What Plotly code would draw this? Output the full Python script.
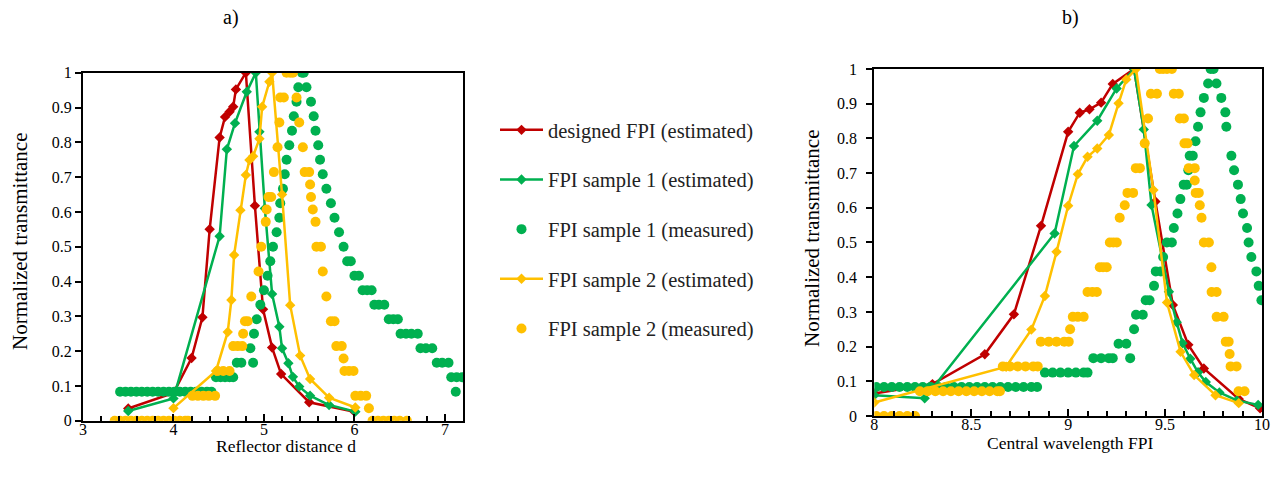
import plotly.graph_objects as go

RED = "#C00000"
GREEN = "#00B050"
YELLOW = "#FFC000"
FONT = "Liberation Serif"

# ---------------- panel a) : reflector distance ----------------
a_red_x = [3.5, 4.0, 4.2, 4.32, 4.4, 4.51, 4.57, 4.62, 4.66, 4.69, 4.8, 4.9, 4.99, 5.09, 5.19, 5.5, 6.0]
a_red_y = [0.035, 0.08, 0.18, 0.297, 0.55, 0.814, 0.873, 0.888, 0.902, 0.952, 1.0, 0.618, 0.32, 0.21, 0.134, 0.053, 0.026]

a_g_est_x = [3.5, 4.0, 4.51, 4.59, 4.68, 4.81, 4.91, 4.95, 5.01, 5.09, 5.17, 5.20, 5.27, 5.32, 5.39, 5.51, 5.72, 6.01]
a_g_est_y = [0.028, 0.064, 0.53, 0.78, 0.855, 0.945, 1.0, 0.83, 0.61, 0.364, 0.27, 0.208, 0.165, 0.126, 0.098, 0.072, 0.045, 0.026]

a_y_est_x = [4.0, 4.47, 4.60, 4.64, 4.67, 4.74, 4.80, 4.84, 4.88, 4.95, 4.98, 5.06, 5.09, 5.20, 5.29, 5.40, 5.51, 5.72, 6.01]
a_y_est_y = [0.036, 0.143, 0.255, 0.347, 0.476, 0.605, 0.706, 0.749, 0.76, 0.81, 0.902, 0.974, 1.0, 0.65, 0.332, 0.187, 0.12, 0.066, 0.038]

a_g_meas_x = [3.41, 3.47, 3.53, 3.59, 3.65, 3.71, 3.77, 3.83, 3.89, 3.95, 4.01, 4.07, 4.13, 4.19, 4.25, 4.31, 4.37, 4.42,
              4.47, 4.52, 4.57, 4.62, 4.66,
              4.70, 4.75, 4.88, 4.85,
              4.89, 4.92, 4.96, 5.00, 5.04, 5.07, 5.10, 5.14, 5.17, 5.18, 5.21, 5.23, 5.25, 5.28, 5.31, 5.33, 5.36, 5.38,
              5.42, 5.44,
              5.47, 5.52, 5.55, 5.57, 5.60, 5.62, 5.65, 5.69, 5.74, 5.78, 5.83, 5.88,
              5.92, 5.96, 6.00, 6.05, 6.09, 6.14, 6.19, 6.22, 6.27, 6.33, 6.38, 6.43, 6.48,
              6.51, 6.57, 6.63, 6.70, 6.73, 6.79, 6.86, 6.91, 6.97, 7.04, 7.07, 7.13, 7.19, 7.12]
a_g_meas_y = [0.0833] * 18 + \
             [0.125] * 5 + \
             [0.1667, 0.1667, 0.1667, 0.2083] + \
             [0.25, 0.2917, 0.3333, 0.375, 0.4167, 0.4583, 0.5, 0.5417, 0.5833, 0.625, 0.6667, 0.7083, 0.75, 0.7917, 0.8333, 0.875, 0.9167, 0.9583] + \
             [1.0, 1.0] + \
             [0.9583, 0.9167, 0.875, 0.8333, 0.7917, 0.75, 0.7083, 0.6667, 0.625, 0.5833, 0.5417, 0.5] + \
             [0.4583, 0.4583, 0.4167, 0.4167, 0.375, 0.375, 0.375, 0.3333, 0.3333, 0.3333, 0.2917, 0.2917, 0.2917] + \
             [0.25, 0.25, 0.25, 0.25, 0.2083, 0.2083, 0.2083, 0.1667, 0.1667, 0.1667, 0.125, 0.125, 0.125, 0.0833]

a_y_meas_x = [3.35, 3.41, 3.47, 3.53, 3.59, 3.65, 3.71, 3.77, 3.83, 3.89, 3.95, 4.01, 4.07, 4.13, 4.16,
              4.21, 4.27, 4.33, 4.39, 4.46,
              4.49, 4.55, 4.62,
              4.66, 4.71, 4.76, 4.77, 4.79, 4.82, 4.86, 4.94, 4.97, 5.02, 5.03, 5.05, 5.08, 5.11, 5.15, 5.17, 5.18, 5.22,
              5.25, 5.29, 5.32,
              5.36, 5.39, 5.43, 5.45, 5.50, 5.51, 5.52, 5.54, 5.57, 5.58, 5.63, 5.65, 5.69, 5.74, 5.78, 5.80, 5.86, 5.88,
              5.89, 5.94, 5.99, 6.01, 6.07, 6.13, 6.16,
              6.20, 6.26, 6.32, 6.38, 6.44, 6.50, 6.58]
a_y_meas_y = [0.0] * 15 + \
             [0.0714] * 5 + \
             [0.1429] * 3 + \
             [0.2143, 0.2143, 0.2143, 0.25, 0.2857, 0.2857, 0.3571, 0.4286, 0.5, 0.5714, 0.6071, 0.6429, 0.6429, 0.7143, 0.7857, 0.8571, 0.9286, 0.9286] + \
             [1.0, 1.0, 1.0] + \
             [0.9286, 0.8571, 0.7857, 0.7143, 0.7143, 0.6786, 0.6429, 0.6071, 0.5714, 0.5, 0.5, 0.4286, 0.3571, 0.2857, 0.2857, 0.2143, 0.2143, 0.1786] + \
             [0.1429, 0.1429, 0.1429, 0.0714, 0.0714, 0.0714, 0.0357] + \
             [0.0] * 7

# ---------------- panel b) : central wavelength ----------------
b_red_x = [8.0, 8.3, 8.57, 8.72, 8.86, 9.0, 9.06, 9.11, 9.17, 9.23, 9.34, 9.45, 9.54, 9.62, 9.70, 9.88, 9.99]
b_red_y = [0.065, 0.092, 0.178, 0.293, 0.548, 0.819, 0.874, 0.884, 0.903, 0.957, 1.0, 0.618, 0.32, 0.205, 0.137, 0.049, 0.022]

b_g_est_x = [8.0, 8.26, 8.93, 9.03, 9.15, 9.25, 9.34, 9.39, 9.43, 9.52, 9.56, 9.59, 9.63, 9.67, 9.71, 9.78, 9.87, 9.98]
b_g_est_y = [0.06, 0.051, 0.526, 0.778, 0.851, 0.944, 1.0, 0.826, 0.608, 0.358, 0.27, 0.21, 0.165, 0.126, 0.098, 0.068, 0.045, 0.032]

b_y_est_x = [8.0, 8.68, 8.81, 8.88, 8.94, 9.0, 9.05, 9.10, 9.15, 9.21, 9.26, 9.30, 9.35, 9.44, 9.51, 9.58, 9.65, 9.76, 9.88]
b_y_est_y = [0.039, 0.142, 0.249, 0.346, 0.473, 0.606, 0.697, 0.747, 0.771, 0.81, 0.901, 0.97, 1.0, 0.651, 0.327, 0.185, 0.118, 0.06, 0.037]

b_g_meas_x = [8.01, 8.05, 8.09, 8.13, 8.17, 8.21, 8.25, 8.29, 8.33, 8.37, 8.41, 8.45, 8.49, 8.53, 8.57, 8.61, 8.65, 8.69, 8.73, 8.77, 8.81, 8.84,
              8.88, 8.92, 8.96, 9.00, 9.04, 9.08, 9.10,
              9.13, 9.17, 9.21, 9.23, 9.32,
              9.26, 9.30, 9.34, 9.35, 9.385, 9.40, 9.42, 9.443, 9.452, 9.478, 9.49, 9.509, 9.535,
              9.545, 9.564, 9.579, 9.596, 9.612, 9.62, 9.627, 9.643, 9.657, 9.67, 9.683, 9.70, 9.722,
              9.735, 9.75,
              9.765, 9.79, 9.811, 9.816, 9.842, 9.856, 9.876, 9.89, 9.902, 9.923, 9.931, 9.945, 9.971, 9.983, 9.997]
b_g_meas_y = [0.0833] * 22 + \
             [0.125] * 7 + \
             [0.1667] * 5 + \
             [0.2083, 0.2083, 0.25, 0.2917, 0.2917, 0.3333, 0.3333, 0.375, 0.4167, 0.4167, 0.4583, 0.5, 0.5] + \
             [0.5417, 0.5833, 0.625, 0.6667, 0.6667, 0.7083, 0.75, 0.75, 0.7917, 0.8333, 0.875, 0.9167, 0.9583] + \
             [1.0, 1.0] + \
             [0.9583, 0.9167, 0.875, 0.8333, 0.75, 0.7083, 0.6667, 0.625, 0.5833, 0.5417, 0.5, 0.4583, 0.4167, 0.375, 0.3333]

b_y_meas_x = [8.01, 8.05, 8.09, 8.13, 8.17, 8.21,
              8.235, 8.275, 8.315, 8.355, 8.395, 8.435, 8.475, 8.515, 8.555, 8.595, 8.635, 8.648,
              8.663, 8.70, 8.74, 8.78, 8.82, 8.843,
              8.859, 8.90, 8.94, 8.98, 9.003,
              9.01, 9.024, 9.05, 9.08, 9.10, 9.125, 9.148, 9.163, 9.18, 9.199, 9.215, 9.233, 9.251,
              9.266, 9.292, 9.306, 9.335, 9.349, 9.37, 9.395, 9.412, 9.427, 9.458,
              9.473, 9.49, 9.51, 9.535,
              9.545, 9.571, 9.576, 9.597, 9.60, 9.616, 9.622, 9.653, 9.653, 9.658, 9.674, 9.679, 9.688,
              9.70, 9.726, 9.739, 9.74, 9.766, 9.766, 9.802, 9.813, 9.828, 9.833, 9.838, 9.869, 9.879, 9.91]
b_y_meas_y = [0.0] * 6 + \
             [0.0714] * 12 + \
             [0.1429] * 6 + \
             [0.2143] * 5 + \
             [0.25, 0.2857, 0.2857, 0.2857, 0.3571, 0.3571, 0.3571, 0.4286, 0.4286, 0.4286, 0.5, 0.5, 0.5] + \
             [0.5714, 0.6071, 0.6429, 0.6429, 0.7143, 0.7143, 0.7857, 0.8571, 0.9286, 0.9286] + \
             [1.0, 1.0, 1.0, 1.0] + \
             [0.9286, 0.9286, 0.8571, 0.8571, 0.7857, 0.7857, 0.7143, 0.7143, 0.6786, 0.6429, 0.6429, 0.6071, 0.5714] + \
             [0.5, 0.5, 0.4286, 0.3571, 0.3571, 0.2857, 0.2857, 0.2143, 0.2143, 0.1786, 0.1429, 0.1429, 0.0714, 0.0714]

names = ["designed FPI (estimated)", "FPI sample 1 (estimated)", "FPI sample 1 (measured)",
         "FPI sample 2 (estimated)", "FPI sample 2 (measured)"]

fig = go.Figure()


def add_panel(xa, ya, rx, ry, gx, gy, gmx, gmy, yx, yy, ymx, ymy, show):
    fig.add_trace(go.Scatter(x=rx, y=ry, mode="lines+markers", name=names[0], legendgroup="g0", showlegend=show,
                             line=dict(color=RED, width=2.5), marker=dict(symbol="diamond", size=8, color=RED),
                             xaxis=xa, yaxis=ya))
    fig.add_trace(go.Scatter(x=gx, y=gy, mode="lines+markers", name=names[1], legendgroup="g1", showlegend=show,
                             line=dict(color=GREEN, width=2.5), marker=dict(symbol="diamond", size=8, color=GREEN),
                             xaxis=xa, yaxis=ya))
    fig.add_trace(go.Scatter(x=gmx, y=gmy, mode="markers", name=names[2], legendgroup="g2", showlegend=show,
                             marker=dict(symbol="circle", size=10, color=GREEN),
                             xaxis=xa, yaxis=ya))
    fig.add_trace(go.Scatter(x=yx, y=yy, mode="lines+markers", name=names[3], legendgroup="g3", showlegend=show,
                             line=dict(color=YELLOW, width=2.5), marker=dict(symbol="diamond", size=8, color=YELLOW),
                             xaxis=xa, yaxis=ya))
    fig.add_trace(go.Scatter(x=ymx, y=ymy, mode="markers", name=names[4], legendgroup="g4", showlegend=show,
                             marker=dict(symbol="circle", size=10, color=YELLOW),
                             xaxis=xa, yaxis=ya))


add_panel("x", "y", a_red_x, a_red_y, a_g_est_x, a_g_est_y, a_g_meas_x, a_g_meas_y,
          a_y_est_x, a_y_est_y, a_y_meas_x, a_y_meas_y, True)
add_panel("x2", "y2", b_red_x, b_red_y, b_g_est_x, b_g_est_y, b_g_meas_x, b_g_meas_y,
          b_y_est_x, b_y_est_y, b_y_meas_x, b_y_meas_y, False)

BLK = "#000000"
tickfont = dict(family=FONT, size=16, color=BLK)
line_common = dict(showgrid=False, zeroline=False, showline=True, linecolor=BLK, linewidth=2,
                   mirror=True, tickcolor=BLK, tickwidth=1.5, tickfont=tickfont, automargin=False)
over_common = dict(showticklabels=False, showgrid=False, zeroline=False, showline=False,
                   tickcolor=BLK, tickwidth=1.5, automargin=False)

LX = [0.06484, 0.36172]
LY = [0.13079, 0.84979]
RX = [0.68305, 0.98594]
RY = [0.14050, 0.85744]

fig.update_layout(
    template="none",
    # main axes: x ticks drawn inside (labels sit close to the axis), y ticks outside
    xaxis=dict(domain=LX, anchor="y", range=[3, 7.2], dtick=1, tick0=3, ticks="inside", ticklen=7,
               ticklabelstandoff=-7,
               minor=dict(dtick=0.2, ticks="inside", ticklen=5, tickcolor=BLK, tickwidth=1.5, showgrid=False),
               **line_common),
    yaxis=dict(domain=LY, anchor="x", range=[0, 1], dtick=0.1, ticks="outside", ticklen=6, **line_common),
    xaxis2=dict(domain=RX, anchor="y2", range=[8, 10], dtick=0.5, tick0=8, ticks="inside", ticklen=7,
                ticklabelstandoff=-7,
                minor=dict(dtick=0.1, ticks="inside", ticklen=5, tickcolor=BLK, tickwidth=1.5, showgrid=False),
                **line_common),
    yaxis2=dict(domain=RY, anchor="x2", range=[0, 1], dtick=0.1, ticks="outside", ticklen=6,
                ticklabelstandoff=6, **line_common),
    # overlay axes: the other half of the cross tick marks
    xaxis3=dict(overlaying="x", anchor="y", range=[3, 7.2], dtick=1, tick0=3, ticks="outside", ticklen=7,
                minor=dict(dtick=0.2, ticks="outside", ticklen=5, tickcolor=BLK, tickwidth=1.5, showgrid=False),
                **over_common),
    yaxis3=dict(overlaying="y", anchor="x", range=[0, 1], dtick=0.1, ticks="inside", ticklen=6, **over_common),
    xaxis4=dict(overlaying="x2", anchor="y2", range=[8, 10], dtick=0.5, tick0=8, ticks="outside", ticklen=7,
                minor=dict(dtick=0.1, ticks="outside", ticklen=5, tickcolor=BLK, tickwidth=1.5, showgrid=False),
                **over_common),
    yaxis4=dict(overlaying="y2", anchor="x2", range=[0, 1], dtick=0.1, ticks="inside", ticklen=6, **over_common),
    width=1280, height=484, autosize=False,
    margin=dict(l=0, r=0, t=0, b=0, pad=0, autoexpand=False),
    paper_bgcolor="#FFFFFF", plot_bgcolor="#FFFFFF",
    font=dict(family=FONT, size=16, color=BLK),
    legend=dict(x=495 / 1280, y=1 - 110 / 484, xanchor="left", yanchor="top",
                font=dict(family=FONT, size=20.5, color="#222222"),
                tracegroupgap=20, itemwidth=43, bgcolor="rgba(0,0,0,0)", borderwidth=0),
    showlegend=True,
)

ann = [
    dict(text="a)", x=231 / 1280, y=1 - 17 / 484, font=dict(size=20)),
    dict(text="b)", x=1070 / 1280, y=1 - 17 / 484, font=dict(size=20)),
    dict(text="Reflector distance d", x=286 / 1280, y=1 - 446 / 484, font=dict(size=17.5)),
    dict(text="Central wavelength FPI", x=1070 / 1280, y=1 - 443 / 484, font=dict(size=17.5)),
    dict(text="Normalized transmittance", x=20 / 1280, y=1 - 241 / 484, textangle=-90, font=dict(size=21)),
    dict(text="Normalized transmittance", x=812 / 1280, y=1 - 238 / 484, textangle=-90, font=dict(size=21)),
]
for a in ann:
    a.update(xref="paper", yref="paper", showarrow=False, xanchor="center", yanchor="middle")
    a["font"].update(family=FONT, color=BLK)
fig.update_layout(annotations=ann)

fig.write_html(
    "out.html",
    post_script="document.body.style.margin='0px';document.body.style.padding='0px';"
                "document.documentElement.style.overflow='hidden';",
)
